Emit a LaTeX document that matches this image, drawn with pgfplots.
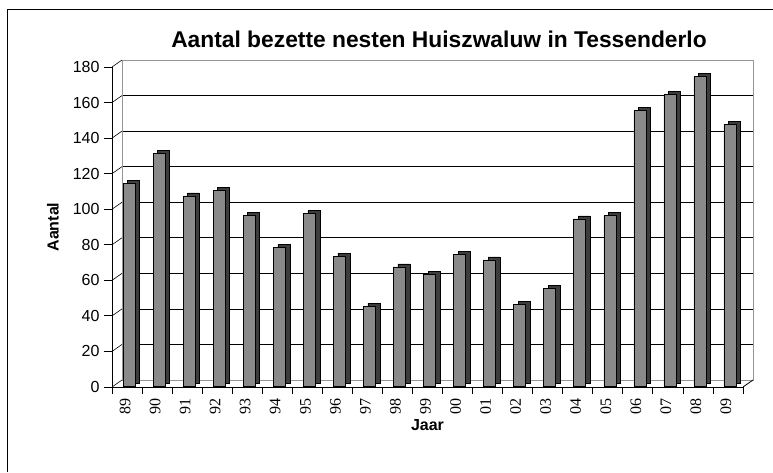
\documentclass[border=0pt]{standalone}
\usepackage{pgfplots}
\pgfplotsset{compat=1.18}
\usepackage{pgfplotstable}
\usepackage{fontspec}
\setmainfont{Liberation Serif}
\setsansfont{Liberation Sans}
\definecolor{barfront}{RGB}{138,138,138}
\definecolor{barside}{RGB}{60,60,60}
\definecolor{wallgray}{RGB}{150,150,150}
\pgfplotstableread{
x y
0 114
1 131
2 107
3 110
4 96
5 78
6 97
7 73
8 45
9 67
10 63
11 74
12 71
13 46
14 55
15 94
16 96
17 155
18 164
19 174
20 147
}\nesten
\begin{document}
\begin{tikzpicture}[x=1pt,y=1pt]
\useasboundingbox (0,0) rectangle (773,472);
\draw[black, line width=0.8pt] (7,0) -- (7,463) -- (773,463);
% back wall
\begin{axis}[
  at={(122pt,92pt)}, anchor=south west,
  scale only axis, width=631pt, height=320pt,
  xmin=-0.5, xmax=20.5, ymin=0, ymax=180,
  xtick=\empty, ytick={0,20,...,180}, yticklabels={},
  major tick length=0pt,
  ymajorgrids, grid style={black, line width=0.6pt},
  axis line style={wallgray, line width=0.8pt},
]
\addplot[draw=none] coordinates {(0,0)};
\end{axis}
% front
\begin{axis}[
  at={(112pt,85pt)}, anchor=south west,
  scale only axis, width=631pt, height=320pt,
  xmin=-0.5, xmax=20.5, ymin=0, ymax=180,
  clip=false,
  axis x line*=bottom, axis y line*=left,
  axis line style={black, line width=0.8pt},
  ytick={0,20,...,180},
  xtick={0,...,20},
  xticklabels={89,90,91,92,93,94,95,96,97,98,99,00,01,02,03,04,05,06,07,08,09},
  minor xtick={-0.5,0.5,...,20.5},
  major x tick style={draw=none},
  minor x tick style={black, line width=0.8pt},
  major y tick style={black, line width=0.8pt},
  tick align=outside,
  major tick length=8pt, minor tick length=7pt,
  /pgf/number format/assume math mode=true,
  yticklabel style={font=\sffamily\fontsize{16}{16}\selectfont, xshift=-1pt},
  xticklabel style={font=\rmfamily\fontsize{16}{16}\selectfont, rotate=90, anchor=east, yshift=2pt},
  xlabel={Jaar}, ylabel={Aantal},
  xlabel style={font=\sffamily\bfseries\fontsize{16}{16}\selectfont, at={(axis description cs:0.5,-0.119)}, anchor=center},
  ylabel style={font=\sffamily\bfseries\fontsize{16}{16}\selectfont, at={(axis description cs:-0.0935,0.5)}, anchor=center},
]
\addplot[ybar, bar width=12pt, bar shift=0pt, fill=barside, draw=black, line width=0.5pt, xshift=6.5pt, yshift=4pt] table[x=x,y=y] {\nesten};
\addplot[ybar, bar width=12pt, bar shift=0pt, fill=barfront, draw=black, line width=0.5pt, xshift=2pt, yshift=1pt] table[x=x,y=y] {\nesten};
\pgfplotsinvokeforeach{0,20,...,180}{
  \draw[black, line width=0.6pt] (axis cs:-0.5,#1) -- ++(10pt,7pt);
}
\draw[black, line width=0.8pt] (axis cs:20.5,0) -- ++(10pt,7pt);
\end{axis}
\node[font=\sffamily\bfseries\fontsize{22.8}{23}\selectfont] at (439,433) {Aantal bezette nesten Huiszwaluw in Tessenderlo};
\end{tikzpicture}
\end{document}
